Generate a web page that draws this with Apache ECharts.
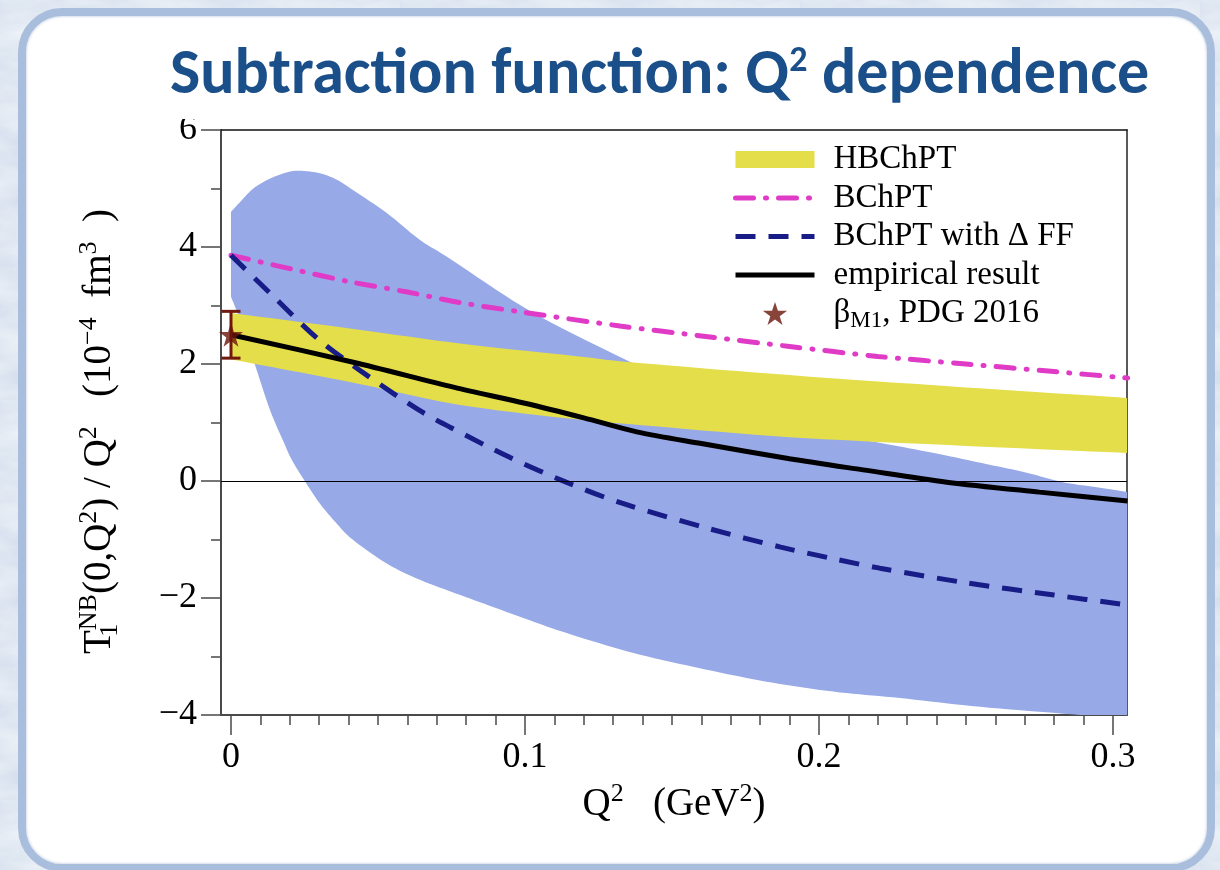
<!DOCTYPE html>
<html>
<head>
<meta charset="utf-8">
<title>Subtraction function: Q² dependence</title>
<script src="https://cdn.jsdelivr.net/npm/echarts@6/dist/echarts.min.js"></script>
<style>
  html, body { margin: 0; padding: 0; width: 1220px; height: 870px; overflow: hidden; }
  body {
    background-color: #d7e1ee;
    background-image: url("data:image/svg+xml;utf8,<svg xmlns='http://www.w3.org/2000/svg' width='400' height='400'><filter id='n'><feTurbulence type='fractalNoise' baseFrequency='0.015 0.04' numOctaves='4' seed='3'/><feColorMatrix values='0 0 0 0 1  0 0 0 0 1  0 0 0 0 1  0 0 0 0.9 -0.25'/></filter><rect width='100%' height='100%' filter='url(%23n)'/></svg>");
  }
  #panel {
    position: absolute; left: 18px; top: 8px; width: 1181px; height: 848px;
    border: 8px solid #a9bedc; border-radius: 44px; background: #ffffff;
    box-shadow: inset 0 0 3px rgba(120,150,195,0.6);
  }
  #chart { position: absolute; left: 0; top: 0; width: 1220px; height: 870px; }
</style>
</head>
<body>
<div id="panel"></div>
<div id="chart"></div>
<script>
// Q² in GeV², subtraction function T1^NB(0,Q²)/Q² in 10^-4 fm^3

// HBChPT band
const hbchptQ     = [0, 0.0416, 0.0779, 0.12, 0.136, 0.19, 0.25, 0.305];
const hbchptUpper = [2.87, 2.60, 2.35, 2.12, 2.03, 1.81, 1.60, 1.42];
const hbchptLower = [2.08, 1.68, 1.30, 1.04, 0.97, 0.75, 0.60, 0.48];

// BChPT
const bchptQ = [0, 0.02, 0.041, 0.06, 0.0779, 0.1, 0.1323, 0.16, 0.19, 0.22, 0.25, 0.28, 0.305];
const bchptT = [3.86, 3.63, 3.40, 3.23, 3.05, 2.88, 2.65, 2.48, 2.30, 2.13, 2.00, 1.87, 1.76];

// BChPT with Delta form factor
const bchptDeltaQ = [0, 0.0133, 0.03, 0.047, 0.064, 0.0745, 0.095, 0.114, 0.133, 0.163, 0.187, 0.205, 0.2207, 0.25, 0.28, 0.305];
const bchptDeltaT = [3.86, 3.21, 2.41, 1.78, 1.21, 0.92, 0.40, -0.02, -0.38, -0.82, -1.13, -1.33, -1.49, -1.74, -1.95, -2.12];

// empirical result (central curve)
const empiricalQ = [0, 0.0416, 0.076, 0.1, 0.12, 0.138, 0.16, 0.19, 0.215, 0.2435, 0.275, 0.305];
const empiricalT = [2.50, 2.03, 1.60, 1.33, 1.08, 0.84, 0.64, 0.38, 0.19, -0.02, -0.19, -0.34];

// empirical uncertainty band: upper and lower edges
const bandUpperQ = [0, 0.0031, 0.0076, 0.0133, 0.0201, 0.0246, 0.0303, 0.036, 0.0416, 0.053, 0.0643, 0.0745, 0.1023, 0.136, 0.15, 0.17, 0.19, 0.205, 0.221, 0.24, 0.255, 0.27, 0.283, 0.295, 0.305];
const bandUpperT = [4.60, 4.77, 5.00, 5.17, 5.29, 5.30, 5.26, 5.15, 4.97, 4.58, 4.12, 3.80, 2.89, 2.03, 1.72, 1.32, 1.00, 0.80, 0.65, 0.47, 0.31, 0.15, -0.02, -0.11, -0.19];
const bandLowerQ = [0, 0.0031, 0.0076, 0.0133, 0.0178, 0.0206, 0.0252, 0.0303, 0.036, 0.0416, 0.053, 0.0643, 0.0813, 0.0983, 0.1142, 0.1369, 0.1595, 0.1822, 0.2049, 0.2276, 0.2548, 0.2888, 0.305];
const bandLowerT = [3.15, 2.75, 2.07, 1.21, 0.68, 0.37, -0.01, -0.39, -0.73, -1.01, -1.41, -1.69, -2.01, -2.32, -2.60, -2.94, -3.20, -3.43, -3.60, -3.71, -3.86, -4.00, -4.07];

// beta_M1, PDG 2016
const pdgQ = [0];
const pdgBeta = [2.5];
const pdgErr = [0.4];

// axis ticks
const xMajorTicks = [0, 0.1, 0.2, 0.3];

const SERIF = "'Liberation Serif', 'Times New Roman', serif";
const STAR = 'path://M50,2 L61.5,36.5 L97.6,36.5 L68.4,57.8 L79.5,92.2 L50,71 L20.5,92.2 L31.6,57.8 L2.4,36.5 L38.5,36.5 Z';
const BAR = 'path://M0,0 L79,0 L79,17 L0,17 Z';

const zip = (xs, ys) => xs.map((x, i) => [x, ys[i]]);

const xMinorTicks = [];
for (let k = 1; k <= 30; k++) {
  if (k % 10 !== 0) xMinorTicks.push(+(k * 0.01).toFixed(2));
}

const X_MIN = -0.0034, X_MAX = 0.3048;
const Y_MIN = -4, Y_MAX = 6;
const axisGrey = '#4a4a4a';

// Catmull-Rom curve through pixel points, returned as a dense point list
function smoothEdge(pts) {
  if (pts.length < 3) return pts.slice();
  const out = [pts[0]];
  const steps = 10;
  for (let i = 0; i < pts.length - 1; i++) {
    const p0 = pts[i - 1] || pts[i], p1 = pts[i], p2 = pts[i + 1], p3 = pts[i + 2] || pts[i + 1];
    const c1 = [p1[0] + (p2[0] - p0[0]) / 6, p1[1] + (p2[1] - p0[1]) / 6];
    const c2 = [p2[0] - (p3[0] - p1[0]) / 6, p2[1] - (p3[1] - p1[1]) / 6];
    for (let s = 1; s <= steps; s++) {
      const t = s / steps, u = 1 - t;
      out.push([
        u * u * u * p1[0] + 3 * u * u * t * c1[0] + 3 * u * t * t * c2[0] + t * t * t * p2[0],
        u * u * u * p1[1] + 3 * u * u * t * c1[1] + 3 * u * t * t * c2[1] + t * t * t * p2[1]
      ]);
    }
  }
  return out;
}

// filled region between an upper edge and a lower edge, in data coordinates
function bandRenderer(upQ, upT, loQ, loT, color) {
  return function (params, api) {
    const up = smoothEdge(upQ.map((q, i) => api.coord([q, upT[i]])));
    const lo = smoothEdge(loQ.map((q, i) => api.coord([q, loT[i]])));
    const pts = up.concat(lo.reverse());
    return { type: 'polygon', shape: { points: pts }, style: { fill: color } };
  };
}

function supRich(size) {
  const small = Math.round(size * 0.66);
  const lh = Math.round(size * 1.2);
  return {
    t:   { fontFamily: SERIF, fontSize: size, lineHeight: lh, color: '#000' },
    sup: { fontFamily: SERIF, fontSize: small, lineHeight: small, verticalAlign: 'top', color: '#000' },
    sub: { fontFamily: SERIF, fontSize: small, lineHeight: small, verticalAlign: 'bottom', color: '#000', width: 0 }
  };
}

const TITLE_FONT = "Carlito, Lato, 'Open Sans', sans-serif";
const lineLegend = { itemStyle: { color: 'transparent', borderWidth: 0 }, lineStyle: { width: 5 } };

const chart = echarts.init(document.getElementById('chart'));

chart.setOption({
  animation: false,
  backgroundColor: 'transparent',
  title: {
    text: '{a|Subtraction function: Q}{s|2}{a| dependence}',
    left: 170,
    top: 30,
    padding: [14, 4, 10, 0],
    backgroundColor: '#ffffff',
    textStyle: {
      rich: {
        a: { fontFamily: TITLE_FONT, fontWeight: 'bold', fontSize: 64, lineHeight: 66, color: '#1a4f89' },
        s: { fontFamily: TITLE_FONT, fontWeight: 'bold', fontSize: 36, lineHeight: 36, verticalAlign: 'top', color: '#1a4f89' }
      }
    }
  },
  grid: { left: 221, top: 130, width: 906, height: 585, outerBoundsMode: 'none' },
  legend: {
    orient: 'vertical',
    left: 728,
    top: 136,
    itemWidth: 79,
    itemHeight: 23,
    itemGap: 1.5,
    selectedMode: false,
    data: [
      { name: 'HBChPT', icon: BAR },
      Object.assign({ name: 'BChPT' }, lineLegend),
      Object.assign({ name: 'BChPT with Δ FF' }, lineLegend),
      Object.assign({ name: 'empirical result' }, lineLegend),
      { name: 'βM1, PDG 2016', icon: STAR }
    ],
    formatter: function (name) {
      if (name === 'βM1, PDG 2016') return '{gap|}{n|β}{s|M1}{n|, PDG 2016}';
      return '{gap|}{n|' + name + '}';
    },
    textStyle: {
      fontFamily: SERIF, fontSize: 33, color: '#000', lineHeight: 37,
      rich: {
        gap: { width: 14 },
        n: { fontFamily: SERIF, fontSize: 33, lineHeight: 37, color: '#000' },
        s: { fontFamily: SERIF, fontSize: 23, lineHeight: 37, color: '#000', padding: [14, 0, 0, 0] }
      }
    }
  },
  xAxis: [
    {
      type: 'value', min: X_MIN, max: X_MAX, position: 'bottom',
      name: '{t|Q}{sup|2}{t|   (GeV}{sup|2}{t|)}',
      nameLocation: 'middle', nameGap: 60,
      nameTextStyle: { rich: supRich(39) },
      axisLine: { show: true, onZero: false, lineStyle: { color: axisGrey, width: 2 } },
      axisTick: { show: true, inside: false, length: 20, customValues: xMajorTicks, lineStyle: { color: axisGrey, width: 1.5 } },
      axisLabel: { show: true, customValues: xMajorTicks, margin: 25, fontFamily: SERIF, fontSize: 36, color: '#000',
                   formatter: v => String(v) },
      splitLine: { show: false }
    },
    {
      type: 'value', min: X_MIN, max: X_MAX, position: 'bottom',
      axisLine: { show: false, onZero: false },
      axisTick: { show: true, inside: false, length: 10, customValues: xMinorTicks, lineStyle: { color: axisGrey, width: 1.5 } },
      axisLabel: { show: false },
      splitLine: { show: false }
    },
    {
      type: 'value', min: X_MIN, max: X_MAX, position: 'top',
      axisLine: { show: true, onZero: false, lineStyle: { color: '#111', width: 1.5 } },
      axisTick: { show: false }, axisLabel: { show: false }, splitLine: { show: false }
    }
  ],
  yAxis: [
    {
      type: 'value', min: Y_MIN, max: Y_MAX, interval: 2, position: 'left',
      name: '{t|T}{sub|1}{sup|NB}{t|(0,Q}{sup|2}{t|) / Q}{sup|2}{t|   (10}{sup|−4}{t|  fm}{sup|3}{t|  )}',
      nameLocation: 'middle', nameRotate: 90, nameGap: 98,
      nameTextStyle: { rich: supRich(39), padding: [0, 18, 0, 0] },
      axisLine: { show: true, onZero: false, lineStyle: { color: axisGrey, width: 2 } },
      axisTick: { show: true, inside: false, length: 20, lineStyle: { color: axisGrey, width: 1.5 } },
      minorTick: { show: true, splitNumber: 2, length: 10, lineStyle: { color: axisGrey, width: 1.5 } },
      axisLabel: { margin: 24, fontFamily: SERIF, fontSize: 36, color: '#000',
                   formatter: v => (v < 0 ? '\u2212' + Math.abs(v) : String(v)) },
      splitLine: { show: false }, minorSplitLine: { show: false }
    },
    {
      type: 'value', min: Y_MIN, max: Y_MAX, position: 'right',
      axisLine: { show: true, onZero: false, lineStyle: { color: '#222', width: 1.5 } },
      axisTick: { show: false }, axisLabel: { show: false }, splitLine: { show: false }
    }
  ],
  series: [
    {
      name: 'empirical band',
      type: 'custom',
      clip: true,
      silent: true,
      z: 1,
      data: [[0, 0]],
      renderItem: bandRenderer(bandUpperQ, bandUpperT, bandLowerQ, bandLowerT, '#97a9e7')
    },
    {
      name: 'HBChPT',
      type: 'custom',
      clip: true,
      silent: true,
      z: 2,
      itemStyle: { color: '#e4de4a' },
      data: [[0, 0]],
      renderItem: bandRenderer(hbchptQ, hbchptUpper, hbchptQ, hbchptLower, '#e4de4a')
    },
    {
      name: 'BChPT',
      type: 'line',
      z: 4,
      smooth: 0.3,
      symbol: 'none',
      data: zip(bchptQ, bchptT),
      itemStyle: { color: '#e03bc6' },
      lineStyle: { color: '#e03bc6', width: 5, type: [18, 12, 1, 12], cap: 'round' }
    },
    {
      name: 'BChPT with Δ FF',
      type: 'line',
      z: 4,
      smooth: 0.3,
      symbol: 'none',
      data: zip(bchptDeltaQ, bchptDeltaT),
      itemStyle: { color: '#181c86' },
      lineStyle: { color: '#181c86', width: 5, type: [20, 13] }
    },
    {
      name: 'empirical result',
      type: 'line',
      z: 5,
      smooth: 0.3,
      symbol: 'none',
      data: zip(empiricalQ, empiricalT),
      itemStyle: { color: '#000' },
      lineStyle: { color: '#000', width: 5 },
      markLine: {
        silent: true,
        symbol: 'none',
        label: { show: false },
        lineStyle: { color: '#000', width: 1.2, type: 'solid' },
        data: [{ yAxis: 0 }]
      }
    },
    {
      name: 'PDG error',
      type: 'custom',
      z: 6,
      silent: true,
      data: pdgQ.map((q, i) => [q, pdgBeta[i] - pdgErr[i], pdgBeta[i] + pdgErr[i]]),
      renderItem: function (params, api) {
        const top = api.coord([api.value(0), api.value(2)]);
        const bot = api.coord([api.value(0), api.value(1)]);
        const cap = 9.5;
        const st = { stroke: '#72190f', lineWidth: 3 };
        return {
          type: 'group',
          children: [
            { type: 'line', shape: { x1: top[0], y1: top[1], x2: bot[0], y2: bot[1] }, style: st },
            { type: 'line', shape: { x1: top[0] - cap, y1: top[1], x2: top[0] + cap, y2: top[1] }, style: st },
            { type: 'line', shape: { x1: bot[0] - cap, y1: bot[1], x2: bot[0] + cap, y2: bot[1] }, style: st }
          ]
        };
      }
    },
    {
      name: 'βM1, PDG 2016',
      type: 'scatter',
      z: 7,
      symbol: STAR,
      symbolSize: 24,
      itemStyle: { color: '#6a140a' },
      data: zip(pdgQ, pdgBeta)
    }
  ]
});
</script>
</body>
</html>
